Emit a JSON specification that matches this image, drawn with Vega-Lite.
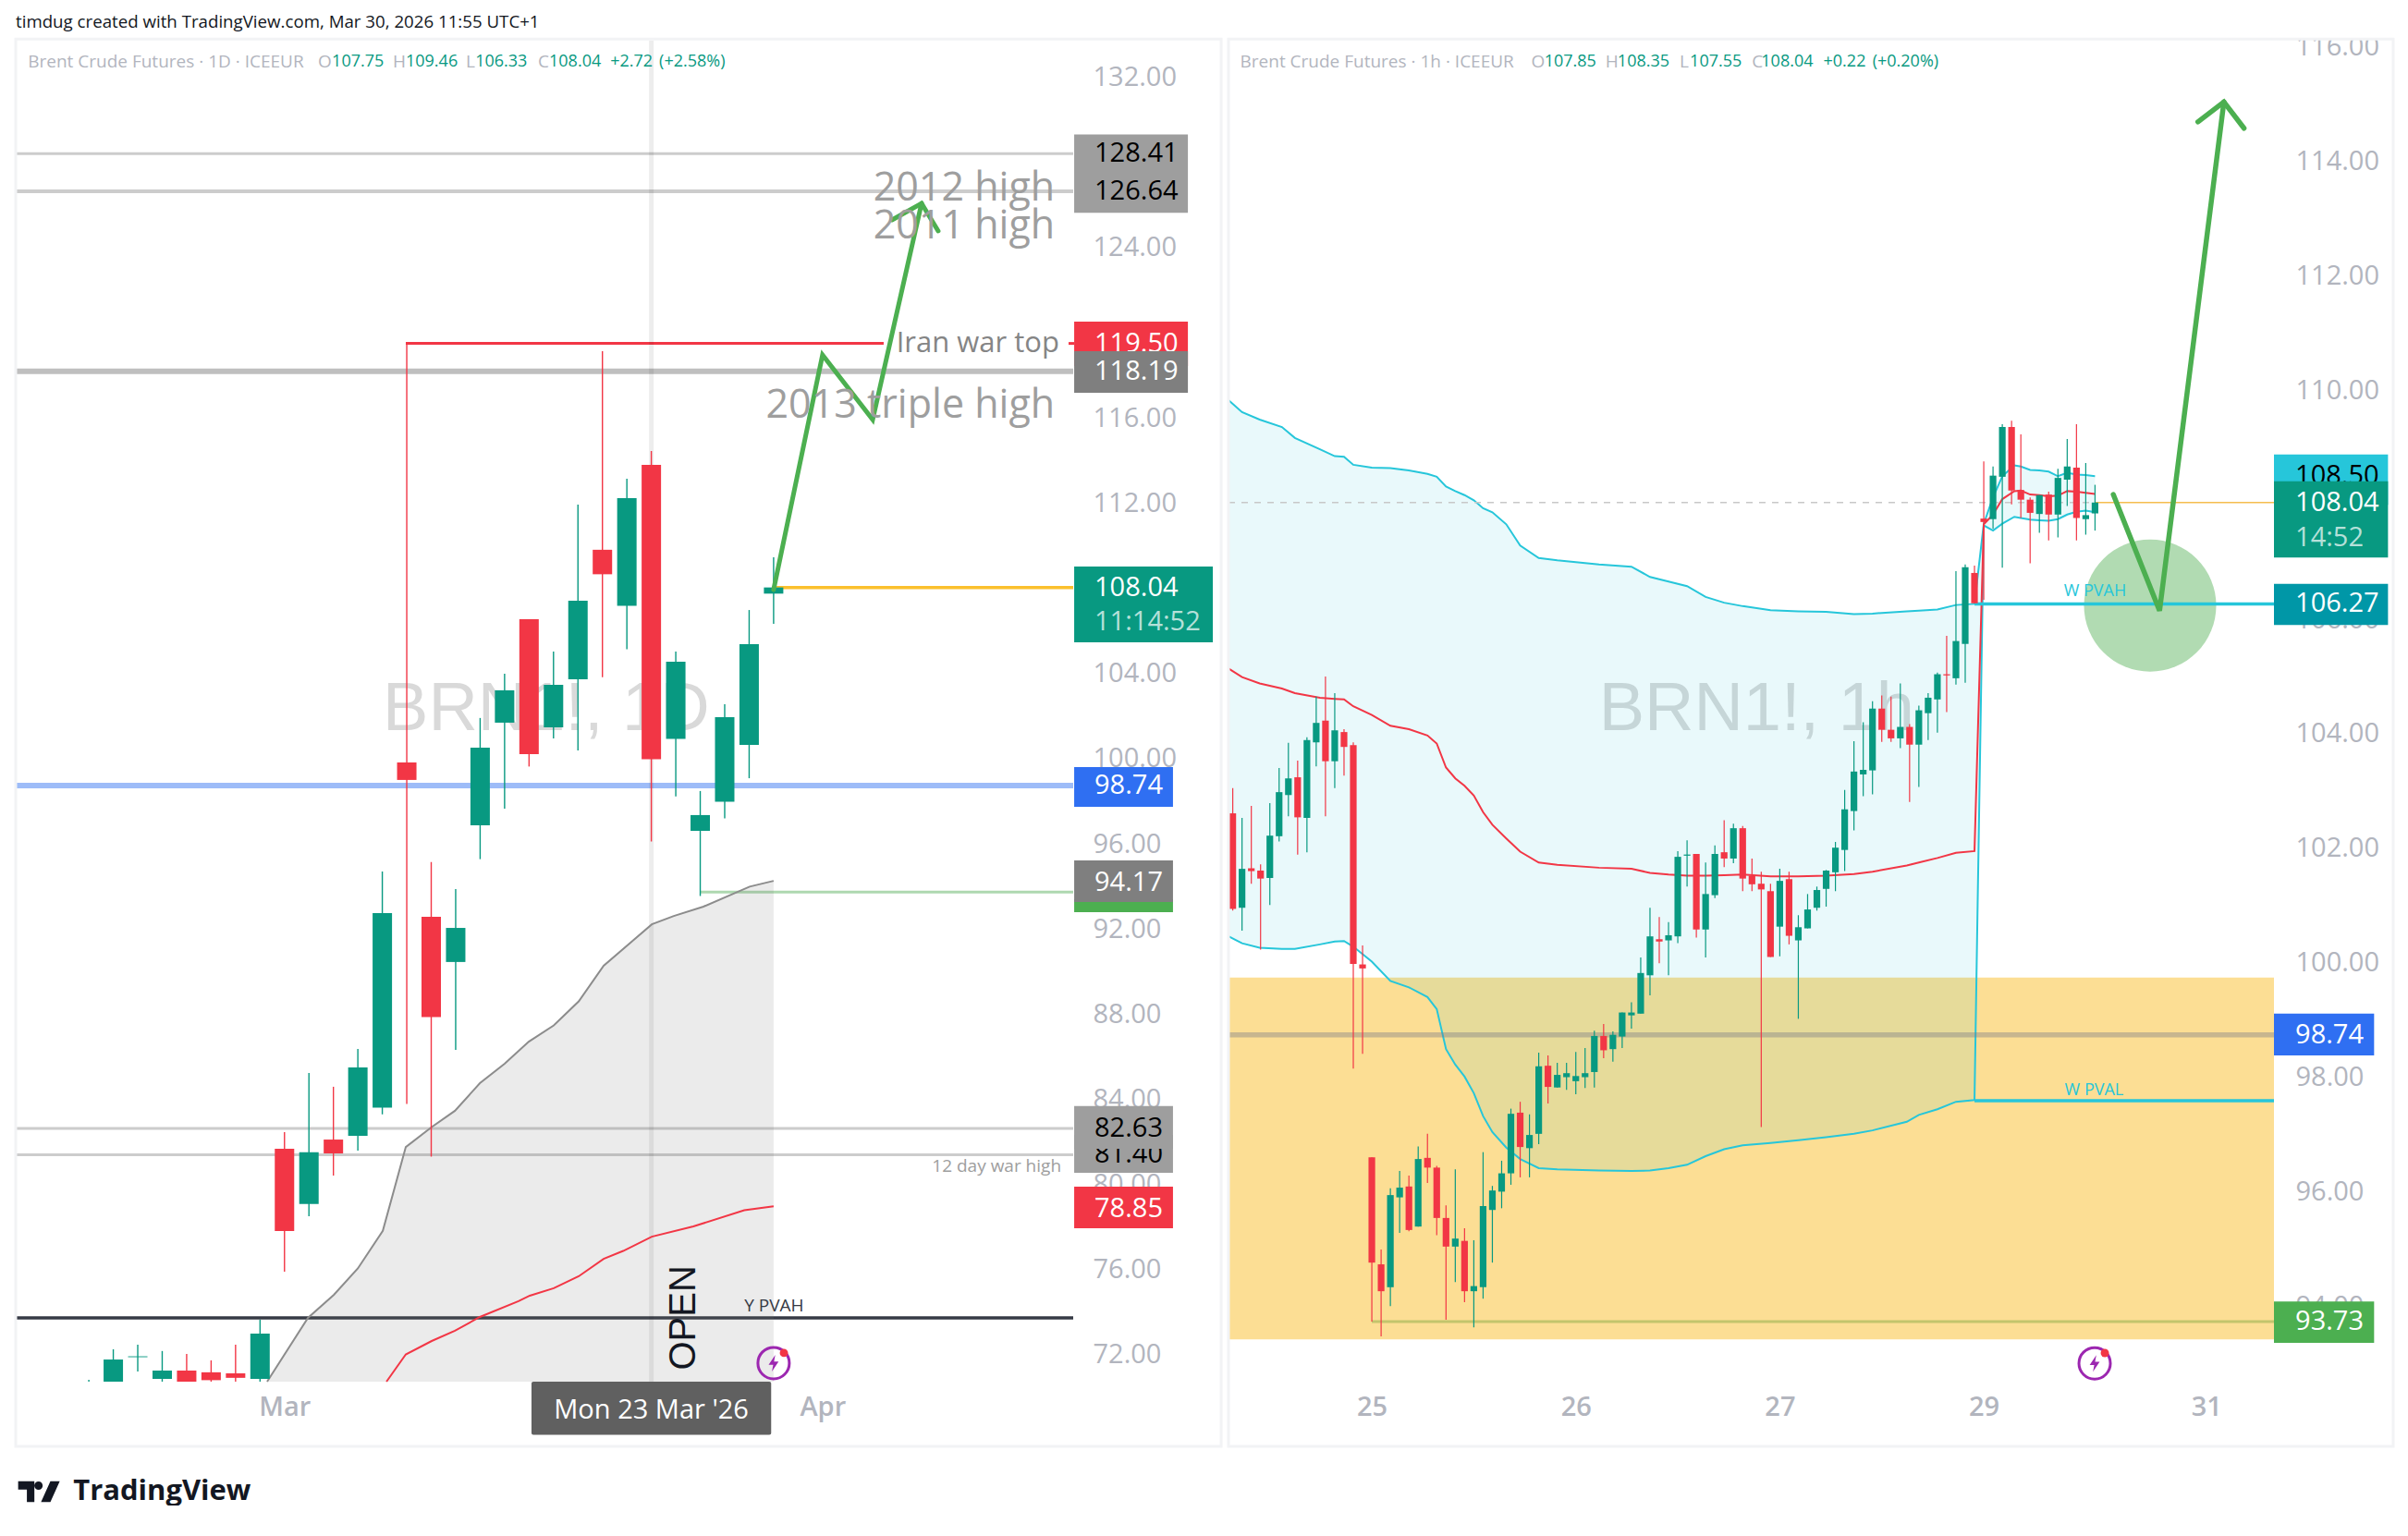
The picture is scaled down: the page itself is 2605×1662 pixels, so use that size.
{
  "$schema": "https://vega.github.io/schema/vega-lite/v6.json",
  "description": "Brent Crude Futures, daily and hourly candles with volume profile levels.",
  "background": "white",
  "padding": {"left": 14, "top": 14, "right": 0, "bottom": 0},
  "spacing": 168,
  "bounds": "flush",
  "config": {
    "view": {"stroke": null},
    "font": "Open Sans",
    "axis": {"domain": false, "ticks": false, "grid": false, "labelFont": "Open Sans", "labelFontSize": 29, "labelColor": "#b2b5be", "labelOverlap": false, "labelBound": false, "labelFlush": false}
  },
  "hconcat": [
    {
      "width": 1144,
      "height": 1451,
      "encoding": {
        "x": {"field": "i", "type": "quantitative", "title": null, "scale": {"domain": [-2.99, 40.25], "nice": false, "zero": false, "padding": 0}, "axis": {"values": [8, 30], "labelExpr": "datum.value == 8 ? 'Mar' : 'Apr'", "labelPadding": 13, "labelFontWeight": 600}},
        "y": {"field": "p", "type": "quantitative", "title": null, "scale": {"domain": [70.74, 133.72], "nice": false, "zero": false}, "axis": {"orient": "right", "values": [72, 76, 80, 84, 88, 92, 96, 100, 104, 108, 112, 116, 120, 124, 128, 132], "format": ".2f", "labelPadding": 21}}
      },
      "layer": [
        {
          "data": {"values": [{"i": 18.7, "p": 102.3, "t": "BRN1!, 1D"}]},
          "mark": {"type": "text", "fontSize": 74, "font": "Liberation Sans", "color": "#d9d9d9", "align": "center", "baseline": "middle"},
          "encoding": {"text": {"field": "t"}}
        },
        {
          "data": {"values": [{"i": -2.99, "i2": 40.25, "p": 128.41}, {"i": -2.99, "i2": 40.25, "p": 82.63}, {"i": -2.99, "i2": 40.25, "p": 81.4}]},
          "mark": {"type": "rule", "color": "#cccccc", "strokeWidth": 3},
          "encoding": {"x2": {"field": "i2"}}
        },
        {
          "data": {"values": [{"i": -2.99, "i2": 40.25, "p": 126.64}]},
          "mark": {"type": "rule", "color": "#cccccc", "strokeWidth": 4},
          "encoding": {"x2": {"field": "i2"}}
        },
        {
          "data": {"values": [{"i": -2.99, "i2": 40.25, "p": 118.19}]},
          "mark": {"type": "rule", "color": "#bfbfbf", "strokeWidth": 6},
          "encoding": {"x2": {"field": "i2"}}
        },
        {
          "data": {"values": [{"i": -2.99, "i2": 40.25, "p": 98.74}]},
          "mark": {"type": "rule", "color": "#9dbcf8", "strokeWidth": 6},
          "encoding": {"x2": {"field": "i2"}}
        },
        {
          "data": {"values": [{"i": 25, "i2": 40.25, "p": 93.73}]},
          "mark": {"type": "rule", "color": "#aed8b0", "strokeWidth": 3},
          "encoding": {"x2": {"field": "i2"}}
        },
        {
          "data": {"values": [{"i": 28, "i2": 40.25, "p": 108.04}]},
          "mark": {"type": "rule", "color": "#fbc02d", "strokeWidth": 3.5},
          "encoding": {"x2": {"field": "i2"}}
        },
        {
          "data": {"values": [{"i": -2.99, "i2": 40.25, "p": 73.74}]},
          "mark": {"type": "rule", "color": "#363a45", "strokeWidth": 3.5},
          "encoding": {"x2": {"field": "i2"}}
        },
        {
          "data": {"values": [{"i": 12.96, "i2": 32.5, "p": 119.5}, {"i": 40.06, "i2": 40.29, "p": 119.5}]},
          "mark": {"type": "rule", "color": "#f23645", "strokeWidth": 3},
          "encoding": {"x2": {"field": "i2"}}
        },
        {
          "data": {"values": [{"i": 23}]},
          "mark": {"type": "rule", "color": "#000000", "opacity": 0.07, "strokeWidth": 5},
          "encoding": {"y": {"value": 0}, "y2": {"value": 1451}}
        },
        {
          "data": {"values": [
            {"i": 7.29, "p": 70.74, "b": 70.74}, {"i": 8.96, "p": 73.74, "b": 70.74}, {"i": 10.02, "p": 74.82, "b": 70.74}, {"i": 11, "p": 76.06, "b": 70.74},
            {"i": 12.02, "p": 77.82, "b": 70.74}, {"i": 12.96, "p": 81.76, "b": 70.74}, {"i": 14.02, "p": 82.7, "b": 70.74}, {"i": 14.97, "p": 83.46, "b": 70.74},
            {"i": 15.99, "p": 84.76, "b": 70.74}, {"i": 17, "p": 85.67, "b": 70.74}, {"i": 17.99, "p": 86.71, "b": 70.74}, {"i": 19.01, "p": 87.47, "b": 70.74},
            {"i": 20.03, "p": 88.6, "b": 70.74}, {"i": 21.05, "p": 90.27, "b": 70.74}, {"i": 23.02, "p": 92.22, "b": 70.74}, {"i": 23.92, "p": 92.61, "b": 70.74},
            {"i": 25.13, "p": 93.05, "b": 70.74}, {"i": 27.02, "p": 93.99, "b": 70.74}, {"i": 28, "p": 94.26, "b": 70.74}
          ]},
          "layer": [
            {"mark": {"type": "area", "color": "#787878", "opacity": 0.15}, "encoding": {"y2": {"field": "b"}}},
            {"mark": {"type": "line", "color": "#8c8c8c", "strokeWidth": 2}, "encoding": {}}
          ]
        },
        {
          "data": {"values": [
            {"i": 12.17, "p": 70.74}, {"i": 12.96, "p": 72.02}, {"i": 14.02, "p": 72.65}, {"i": 14.97, "p": 73.13}, {"i": 15.99, "p": 73.78}, {"i": 17.57, "p": 74.52},
            {"i": 18.03, "p": 74.78}, {"i": 19.01, "p": 75.13}, {"i": 20.03, "p": 75.69}, {"i": 21.05, "p": 76.51}, {"i": 21.85, "p": 76.88}, {"i": 23.02, "p": 77.55},
            {"i": 24.72, "p": 78.03}, {"i": 26.8, "p": 78.79}, {"i": 28, "p": 78.98}
          ]},
          "mark": {"type": "line", "color": "#f23645", "strokeWidth": 2},
          "encoding": {}
        },
        {
          "data": {"values": [
            {"i": 0, "o": 70, "h": 70.83, "l": 69.5, "c": 70.5},
            {"i": 1, "o": 70.3, "h": 72.26, "l": 70, "c": 71.78},
            {"i": 2, "o": 71.89, "h": 72.48, "l": 71.22, "c": 71.93},
            {"i": 3, "o": 70.87, "h": 72.18, "l": 70.72, "c": 71.26},
            {"i": 4, "o": 71.26, "h": 72.04, "l": 70.3, "c": 70.5},
            {"i": 5, "o": 71.18, "h": 71.74, "l": 70.6, "c": 70.81},
            {"i": 6, "o": 71.13, "h": 72.48, "l": 70.6, "c": 70.92},
            {"i": 7, "o": 70.87, "h": 73.65, "l": 70.6, "c": 73},
            {"i": 8, "o": 81.68, "h": 82.46, "l": 75.91, "c": 77.82},
            {"i": 9, "o": 79.08, "h": 85.24, "l": 78.51, "c": 81.51},
            {"i": 10, "o": 82.11, "h": 84.59, "l": 80.42, "c": 81.46},
            {"i": 11, "o": 82.29, "h": 86.37, "l": 81.59, "c": 85.5},
            {"i": 12, "o": 83.61, "h": 94.7, "l": 83.29, "c": 92.75},
            {"i": 13, "o": 99.82, "h": 119.48, "l": 83.78, "c": 99},
            {"i": 14, "o": 92.57, "h": 95.14, "l": 81.31, "c": 87.86},
            {"i": 15, "o": 90.45, "h": 93.88, "l": 86.32, "c": 92.05},
            {"i": 16, "o": 96.87, "h": 101.91, "l": 95.28, "c": 100.52},
            {"i": 17, "o": 101.69, "h": 103.99, "l": 97.65, "c": 103.21},
            {"i": 18, "o": 106.55, "h": 106.55, "l": 99.63, "c": 100.21},
            {"i": 19, "o": 101.47, "h": 105.03, "l": 100.95, "c": 103.47},
            {"i": 20, "o": 103.73, "h": 111.93, "l": 100.39, "c": 107.42},
            {"i": 21, "o": 109.81, "h": 119.14, "l": 103.82, "c": 108.66},
            {"i": 22, "o": 107.18, "h": 113.15, "l": 105.14, "c": 112.24},
            {"i": 23, "o": 113.8, "h": 114.45, "l": 96.11, "c": 99.97},
            {"i": 24, "o": 100.93, "h": 105.03, "l": 98.23, "c": 104.55},
            {"i": 25, "o": 96.61, "h": 98.48, "l": 93.55, "c": 97.35},
            {"i": 26, "o": 97.98, "h": 102.56, "l": 97.19, "c": 101.95},
            {"i": 27, "o": 100.65, "h": 106.98, "l": 99.08, "c": 105.38},
            {"i": 28, "o": 107.75, "h": 109.46, "l": 106.33, "c": 108.04}
          ]},
          "layer": [
            {
              "mark": {"type": "rule", "strokeWidth": 1.4, "clip": true},
              "encoding": {
                "y": {"field": "h", "type": "quantitative", "title": null, "scale": {"domain": [70.74, 133.72], "nice": false, "zero": false}},
                "y2": {"field": "l"},
                "color": {"condition": {"test": "datum.c >= datum.o", "value": "#089981"}, "value": "#f23645"}
              }
            },
            {
              "mark": {"type": "bar", "width": 21, "clip": true},
              "encoding": {
                "y": {"field": "o", "type": "quantitative", "title": null, "scale": {"domain": [70.74, 133.72], "nice": false, "zero": false}},
                "y2": {"field": "c"},
                "color": {"condition": {"test": "datum.c >= datum.o", "value": "#089981"}, "value": "#f23645"}
              }
            }
          ]
        },
        {
          "data": {"values": [
            {"leg": "main", "n": 1, "i": 28, "p": 107.94}, {"leg": "main", "n": 2, "i": 30, "p": 118.96}, {"leg": "main", "n": 3, "i": 32.05, "p": 115.92}, {"leg": "main", "n": 4, "i": 34.05, "p": 126.08},
            {"leg": "head", "n": 1, "i": 32.84, "p": 125.3}, {"leg": "head", "n": 2, "i": 34.05, "p": 126.08}, {"leg": "head", "n": 3, "i": 34.73, "p": 124.78}
          ]},
          "mark": {"type": "line", "color": "#4caf50", "strokeWidth": 5, "strokeCap": "round", "strokeJoin": "miter"},
          "encoding": {"detail": {"field": "leg"}, "order": {"field": "n"}}
        },
        {
          "data": {"values": [{"i": 39.5, "p": 126.77, "t": "2012 high"}, {"i": 39.5, "p": 124.99, "t": "2011 high"}, {"i": 39.5, "p": 116.57, "t": "2013 triple high"}]},
          "mark": {"type": "text", "fontSize": 43, "color": "#9e9e9e", "align": "right", "baseline": "middle"},
          "encoding": {"text": {"field": "t"}}
        },
        {
          "data": {"values": [{"i": 39.68, "p": 119.48, "t": "Iran war top"}]},
          "mark": {"type": "text", "fontSize": 31, "color": "#858585", "align": "right", "baseline": "middle"},
          "encoding": {"text": {"field": "t"}}
        },
        {
          "data": {"values": [{"i": 39.76, "p": 80.85, "t": "12 day war high"}]},
          "mark": {"type": "text", "fontSize": 19, "color": "#9e9e9e", "align": "right", "baseline": "middle"},
          "encoding": {"text": {"field": "t"}}
        },
        {
          "data": {"values": [{"i": 26.8, "p": 74.28, "t": "Y PVAH"}]},
          "mark": {"type": "text", "fontSize": 19, "color": "#363a45", "align": "left", "baseline": "middle"},
          "encoding": {"text": {"field": "t"}}
        },
        {
          "data": {"values": [{"i": 24.34, "p": 73.74, "t": "OPEN"}]},
          "mark": {"type": "text", "fontSize": 40, "font": "Liberation Sans", "color": "#131722", "angle": 270, "align": "center", "baseline": "middle"},
          "encoding": {"text": {"field": "t"}}
        },
        {
          "data": {"values": [{"i": 28, "p": 71.61}]},
          "layer": [
            {"mark": {"type": "point", "shape": "circle", "filled": false, "size": 1156, "color": "#9c27b0", "strokeWidth": 3, "opacity": 1}, "encoding": {}},
            {"mark": {"type": "point", "shape": "M0.2 -1 L-0.6 0.2 H-0.05 L-0.2 1 L0.6 -0.2 H0.05 Z", "filled": true, "size": 324, "color": "#9c27b0", "opacity": 1}, "encoding": {}}
          ]
        },
        {
          "data": {"values": [{"i": 28.42, "p": 72.09}]},
          "mark": {"type": "circle", "size": 80, "color": "#f23645", "opacity": 1},
          "encoding": {}
        },
        {
          "data": {"values": [{"i": 40.29, "i2": 44.94, "p": 120.52, "p2": 118.44}]},
          "mark": {"type": "rect", "color": "#f23645"},
          "encoding": {"x2": {"field": "i2"}, "y2": {"field": "p2"}}
        },
        {
          "data": {"values": [{"i": 41.12, "p": 119.5, "t": "119.50"}]},
          "mark": {"type": "text", "fontSize": 29, "color": "#ffffff", "align": "left", "baseline": "middle"},
          "encoding": {"text": {"field": "t"}}
        },
        {
          "data": {"values": [{"i": 40.29, "i2": 44.33, "p": 93.4, "p2": 92.79}]},
          "mark": {"type": "rect", "color": "#4caf50"},
          "encoding": {"x2": {"field": "i2"}, "y2": {"field": "p2"}}
        },
        {
          "data": {"values": [{"i": 40.29, "i2": 44.33, "p": 82.33, "p2": 80.55}]},
          "mark": {"type": "rect", "color": "#9e9e9e"},
          "encoding": {"x2": {"field": "i2"}, "y2": {"field": "p2"}}
        },
        {
          "data": {"values": [{"i": 41.12, "p": 81.4, "t": "81.40"}]},
          "mark": {"type": "text", "fontSize": 29, "color": "#000000", "align": "left", "baseline": "middle"},
          "encoding": {"text": {"field": "t"}}
        },
        {
          "data": {"values": [
            {"i": 40.29, "i2": 44.94, "p": 129.31, "p2": 125.64},
            {"i": 40.29, "i2": 44.33, "p": 83.68, "p2": 81.68}
          ]},
          "mark": {"type": "rect", "color": "#9e9e9e"},
          "encoding": {"x2": {"field": "i2"}, "y2": {"field": "p2"}}
        },
        {
          "data": {"values": [
            {"i": 40.29, "i2": 44.94, "p": 119.14, "p2": 117.18},
            {"i": 40.29, "i2": 44.33, "p": 95.22, "p2": 93.27}
          ]},
          "mark": {"type": "rect", "color": "#7f7f7f"},
          "encoding": {"x2": {"field": "i2"}, "y2": {"field": "p2"}}
        },
        {
          "data": {"values": [{"i": 40.29, "i2": 45.96, "p": 109.02, "p2": 105.46}]},
          "mark": {"type": "rect", "color": "#089981"},
          "encoding": {"x2": {"field": "i2"}, "y2": {"field": "p2"}}
        },
        {
          "data": {"values": [{"i": 40.29, "i2": 44.33, "p": 99.6, "p2": 97.74}]},
          "mark": {"type": "rect", "color": "#2f6ff2"},
          "encoding": {"x2": {"field": "i2"}, "y2": {"field": "p2"}}
        },
        {
          "data": {"values": [{"i": 40.29, "i2": 44.33, "p": 79.9, "p2": 77.94}]},
          "mark": {"type": "rect", "color": "#f23645"},
          "encoding": {"x2": {"field": "i2"}, "y2": {"field": "p2"}}
        },
        {
          "data": {"values": [{"i": 18.1, "i2": 27.9, "p": 70.74, "p2": 68.24}]},
          "mark": {"type": "rect", "color": "#606060", "cornerRadius": 2},
          "encoding": {"x2": {"field": "i2"}, "y2": {"field": "p2"}}
        },
        {
          "data": {"values": [{"i": 41.12, "p": 128.41, "t": "128.41"}, {"i": 41.12, "p": 126.64, "t": "126.64"}, {"i": 41.12, "p": 82.63, "t": "82.63"}]},
          "mark": {"type": "text", "fontSize": 29, "color": "#000000", "align": "left", "baseline": "middle"},
          "encoding": {"text": {"field": "t"}}
        },
        {
          "data": {"values": [
            {"i": 41.12, "p": 118.19, "t": "118.19"}, {"i": 41.12, "p": 108.04, "t": "108.04"}, {"i": 41.12, "p": 98.74, "t": "98.74"},
            {"i": 41.12, "p": 94.17, "t": "94.17"}, {"i": 41.12, "p": 78.85, "t": "78.85"}
          ]},
          "mark": {"type": "text", "fontSize": 29, "color": "#ffffff", "align": "left", "baseline": "middle"},
          "encoding": {"text": {"field": "t"}}
        },
        {
          "data": {"values": [{"i": 41.12, "p": 106.42, "t": "11:14:52"}]},
          "mark": {"type": "text", "fontSize": 29, "color": "#b5e0d9", "align": "left", "baseline": "middle"},
          "encoding": {"text": {"field": "t"}}
        },
        {
          "data": {"values": [{"i": 23, "p": 69.39, "t": "Mon 23 Mar '26"}]},
          "mark": {"type": "text", "fontSize": 29, "color": "#ffffff", "align": "center", "baseline": "middle"},
          "encoding": {"text": {"field": "t"}}
        },
        {
          "data": {"values": [{"i": -2.99, "i2": 46.3, "p": 133.8, "p2": 67.7}]},
          "mark": {"type": "rect", "fill": "transparent", "stroke": "#f2f3f5", "strokeWidth": 3},
          "encoding": {"x2": {"field": "i2"}, "y2": {"field": "p2"}}
        },
        {
          "data": {"values": [{"i": -2.99, "p": 134.59, "t": "timdug created with TradingView.com, Mar 30, 2026 11:55 UTC+1"}]},
          "mark": {"type": "text", "fontSize": 18.7, "color": "#131722", "align": "left", "baseline": "middle"},
          "encoding": {"text": {"field": "t"}}
        },
        {
          "data": {"values": [{"i": -2.49, "p": 132.72, "t": "Brent Crude Futures · 1D · ICEEUR"}, {"i": 9.37, "p": 132.72, "t": "O"}, {"i": 12.43, "p": 132.72, "t": "H"}, {"i": 15.42, "p": 132.72, "t": "L"}, {"i": 18.37, "p": 132.72, "t": "C"}]},
          "mark": {"type": "text", "fontSize": 19, "color": "#b2b5be", "align": "left", "baseline": "middle"},
          "encoding": {"text": {"field": "t"}}
        },
        {
          "data": {"values": [{"i": 9.94, "p": 132.72, "t": "107.75"}, {"i": 12.96, "p": 132.72, "t": "109.46"}, {"i": 15.8, "p": 132.72, "t": "106.33"}, {"i": 18.82, "p": 132.72, "t": "108.04"}, {"i": 21.32, "p": 132.72, "t": "+2.72"}, {"i": 23.32, "p": 132.72, "t": "(+2.58%)"}]},
          "mark": {"type": "text", "fontSize": 18, "color": "#089981", "align": "left", "baseline": "middle"},
          "encoding": {"text": {"field": "t"}}
        },
        {
          "data": {"values": [{"i": -2.04, "p": 65.58}]},
          "mark": {"type": "point", "shape": "M-1 -0.5 H-0.22 V0.5 H-0.58 V-0.1 H-1 Z M-0.22 -0.28 A0.2 0.2 0 1 1 0.18 -0.28 A0.2 0.2 0 1 1 -0.22 -0.28 Z M0.55 -0.5 H1 L0.55 0.5 H0.1 Z", "filled": true, "size": 2025, "color": "#131722", "opacity": 1},
          "encoding": {}
        },
        {
          "data": {"values": [{"i": -0.64, "p": 65.58, "t": "TradingView"}]},
          "mark": {"type": "text", "fontSize": 31, "fontWeight": "bold", "color": "#131722", "align": "left", "baseline": "middle"},
          "encoding": {"text": {"field": "t"}}
        }
      ]
    },
    {
      "width": 1131,
      "height": 1451,
      "encoding": {
        "x": {"field": "i", "type": "quantitative", "title": null, "scale": {"domain": [-0.46, 112.3], "nice": false, "zero": false, "padding": 0}, "axis": {"values": [15, 37, 59, 81, 105], "labelExpr": "datum.value == 15 ? '25' : datum.value == 37 ? '26' : datum.value == 59 ? '27' : datum.value == 81 ? '29' : '31'", "labelPadding": 13, "labelFontWeight": 600}},
        "y": {"field": "p", "type": "quantitative", "title": null, "scale": {"domain": [92.68, 116.11], "nice": false, "zero": false}, "axis": {"orient": "right", "values": [94, 96, 98, 100, 102, 104, 106, 108, 110, 112, 114, 116], "format": ".2f", "labelPadding": 23}}
      },
      "layer": [
        {
          "data": {"values": [{"i": -0.46, "i2": 112.3, "p": 99.74, "p2": 93.42}]},
          "mark": {"type": "rect", "color": "#fcde94"},
          "encoding": {"x2": {"field": "i2"}, "y2": {"field": "p2"}}
        },
        {
          "data": {"values": [{"i": 56.5, "p": 104.42, "t": "BRN1!, 1h"}]},
          "mark": {"type": "text", "fontSize": 74, "font": "Liberation Sans", "color": "#d9d9d9", "align": "center", "baseline": "middle"},
          "encoding": {"text": {"field": "t"}}
        },
        {
          "data": {"values": [
            {"i": -0.45, "u": 109.83, "m": 105.14, "l": 100.46}, {"i": 1, "u": 109.62, "m": 104.99, "l": 100.34}, {"i": 2.9, "u": 109.49, "m": 104.88, "l": 100.26},
            {"i": 5.3, "u": 109.36, "m": 104.79, "l": 100.24}, {"i": 6.7, "u": 109.17, "m": 104.71, "l": 100.24}, {"i": 9.4, "u": 108.97, "m": 104.63, "l": 100.32},
            {"i": 11, "u": 108.85, "m": 104.61, "l": 100.37}, {"i": 12, "u": 108.84, "m": 104.6, "l": 100.38}, {"i": 13, "u": 108.7, "m": 104.48, "l": 100.28},
            {"i": 15, "u": 108.65, "m": 104.33, "l": 100.02}, {"i": 17, "u": 108.64, "m": 104.14, "l": 99.68}, {"i": 19, "u": 108.6, "m": 104.08, "l": 99.57},
            {"i": 21, "u": 108.54, "m": 103.97, "l": 99.4}, {"i": 22, "u": 108.49, "m": 103.83, "l": 99.19}, {"i": 23, "u": 108.32, "m": 103.41, "l": 98.49},
            {"i": 24, "u": 108.24, "m": 103.22, "l": 98.22}, {"i": 25, "u": 108.17, "m": 103.09, "l": 98.01}, {"i": 26, "u": 108.08, "m": 102.92, "l": 97.72},
            {"i": 27, "u": 107.94, "m": 102.63, "l": 97.32}, {"i": 28, "u": 107.87, "m": 102.41, "l": 97.04}, {"i": 29.5, "u": 107.66, "m": 102.17, "l": 96.77},
            {"i": 31, "u": 107.29, "m": 101.94, "l": 96.57}, {"i": 33, "u": 107.07, "m": 101.75, "l": 96.41}, {"i": 35, "u": 107.03, "m": 101.71, "l": 96.39},
            {"i": 39.5, "u": 106.96, "m": 101.66, "l": 96.37}, {"i": 43, "u": 106.92, "m": 101.64, "l": 96.36}, {"i": 45, "u": 106.74, "m": 101.57, "l": 96.37},
            {"i": 47, "u": 106.66, "m": 101.54, "l": 96.41}, {"i": 49, "u": 106.58, "m": 101.52, "l": 96.47}, {"i": 51, "u": 106.39, "m": 101.52, "l": 96.62},
            {"i": 53, "u": 106.29, "m": 101.53, "l": 96.74}, {"i": 55, "u": 106.23, "m": 101.54, "l": 96.81}, {"i": 58, "u": 106.16, "m": 101.51, "l": 96.85},
            {"i": 61, "u": 106.14, "m": 101.51, "l": 96.9}, {"i": 64, "u": 106.13, "m": 101.52, "l": 96.95}, {"i": 67, "u": 106.09, "m": 101.55, "l": 97.01},
            {"i": 69, "u": 106.1, "m": 101.59, "l": 97.07}, {"i": 72.7, "u": 106.14, "m": 101.7, "l": 97.22}, {"i": 74, "u": 106.15, "m": 101.75, "l": 97.34},
            {"i": 76, "u": 106.17, "m": 101.83, "l": 97.44}, {"i": 78, "u": 106.25, "m": 101.92, "l": 97.57}, {"i": 80, "u": 106.27, "m": 101.95, "l": 97.6},
            {"i": 81, "u": 107.67, "m": 107.66, "l": 107.64}, {"i": 82, "u": 108.13, "m": 107.83, "l": 107.55}, {"i": 83, "u": 108.5, "m": 108.1, "l": 107.67},
            {"i": 84.3, "u": 108.69, "m": 108.24, "l": 107.79}, {"i": 85, "u": 108.67, "m": 108.25, "l": 107.77}, {"i": 86, "u": 108.61, "m": 108.18, "l": 107.74},
            {"i": 87, "u": 108.6, "m": 108.17, "l": 107.73}, {"i": 88, "u": 108.58, "m": 108.15, "l": 107.72}, {"i": 89, "u": 108.5, "m": 108.16, "l": 107.75},
            {"i": 90, "u": 108.56, "m": 108.24, "l": 107.83}, {"i": 91, "u": 108.53, "m": 108.23, "l": 107.88}, {"i": 92, "u": 108.52, "m": 108.21, "l": 107.9},
            {"i": 93, "u": 108.5, "m": 108.19, "l": 107.87}
          ]},
          "layer": [
            {
              "mark": {"type": "area", "color": "#26c6da", "opacity": 0.1},
              "encoding": {
                "y": {"field": "u", "type": "quantitative", "title": null, "scale": {"domain": [92.68, 116.11], "nice": false, "zero": false}},
                "y2": {"field": "l"}
              }
            },
            {
              "mark": {"type": "line", "color": "#26c6da", "strokeWidth": 2},
              "encoding": {"y": {"field": "u", "type": "quantitative", "title": null, "scale": {"domain": [92.68, 116.11], "nice": false, "zero": false}}}
            },
            {
              "mark": {"type": "line", "color": "#26c6da", "strokeWidth": 2},
              "encoding": {"y": {"field": "l", "type": "quantitative", "title": null, "scale": {"domain": [92.68, 116.11], "nice": false, "zero": false}}}
            },
            {
              "mark": {"type": "line", "color": "#f23645", "strokeWidth": 2},
              "encoding": {"y": {"field": "m", "type": "quantitative", "title": null, "scale": {"domain": [92.68, 116.11], "nice": false, "zero": false}}}
            }
          ]
        },
        {
          "data": {"values": [{"i": -0.46, "i2": 112.3, "p": 98.74}]},
          "mark": {"type": "rule", "color": "#787b86", "opacity": 0.4, "strokeWidth": 5.5},
          "encoding": {"x2": {"field": "i2"}}
        },
        {
          "data": {"values": [{"i": 15, "i2": 112.3, "p": 93.73}]},
          "mark": {"type": "rule", "color": "#6fa02f", "opacity": 0.4, "strokeWidth": 3},
          "encoding": {"x2": {"field": "i2"}}
        },
        {
          "data": {"values": [{"i": -0.46, "i2": 93, "p": 108.04}]},
          "mark": {"type": "rule", "color": "#c8c8c8", "strokeWidth": 1.5, "strokeDash": [7, 7]},
          "encoding": {"x2": {"field": "i2"}}
        },
        {
          "data": {"values": [{"i": 93, "i2": 112.3, "p": 108.04}]},
          "mark": {"type": "rule", "color": "#f5bd4f", "strokeWidth": 1.5},
          "encoding": {"x2": {"field": "i2"}}
        },
        {
          "data": {"values": [{"i": 98.94, "p": 106.24}]},
          "mark": {"type": "circle", "size": 20449, "color": "#b1dbb2", "opacity": 1},
          "encoding": {}
        },
        {
          "data": {"values": [{"i": 80, "i2": 112.3, "p": 106.27}, {"i": 80, "i2": 112.3, "p": 97.59}]},
          "mark": {"type": "rule", "color": "#26c6da", "strokeWidth": 3.5},
          "encoding": {"x2": {"field": "i2"}}
        },
        {
          "data": {"values": [
            {"i": 0, "o": 102.61, "h": 103.05, "l": 100.91, "c": 100.94}, {"i": 1, "o": 100.96, "h": 102.53, "l": 100.56, "c": 101.64}, {"i": 2, "o": 101.65, "h": 102.74, "l": 101.38, "c": 101.6},
            {"i": 3, "o": 101.61, "h": 101.72, "l": 100.23, "c": 101.47}, {"i": 4, "o": 101.48, "h": 102.79, "l": 101.01, "c": 102.22}, {"i": 5, "o": 102.21, "h": 103.4, "l": 102.12, "c": 102.98},
            {"i": 6, "o": 102.93, "h": 103.84, "l": 102.56, "c": 103.22}, {"i": 7, "o": 103.24, "h": 103.53, "l": 101.89, "c": 102.54}, {"i": 8, "o": 102.53, "h": 103.94, "l": 101.93, "c": 103.89},
            {"i": 9, "o": 103.85, "h": 104.65, "l": 103.43, "c": 104.19}, {"i": 10, "o": 104.23, "h": 105, "l": 102.56, "c": 103.52}, {"i": 11, "o": 103.52, "h": 104.71, "l": 103.05, "c": 104.06},
            {"i": 12, "o": 104.03, "h": 104.08, "l": 103.27, "c": 103.77}, {"i": 13, "o": 103.8, "h": 103.85, "l": 98.15, "c": 99.98}, {"i": 14, "o": 99.97, "h": 100.3, "l": 98.41, "c": 99.9},
            {"i": 15, "o": 96.6, "h": 96.6, "l": 93.73, "c": 94.76}, {"i": 16, "o": 94.73, "h": 94.99, "l": 93.47, "c": 94.26}, {"i": 17, "o": 94.33, "h": 96.06, "l": 94, "c": 95.94},
            {"i": 18, "o": 95.9, "h": 96.36, "l": 95.28, "c": 96.07}, {"i": 19, "o": 96.09, "h": 96.28, "l": 95.31, "c": 95.33}, {"i": 20, "o": 95.39, "h": 96.79, "l": 95.39, "c": 96.57},
            {"i": 21, "o": 96.59, "h": 97.01, "l": 96.15, "c": 96.42}, {"i": 22, "o": 96.42, "h": 96.45, "l": 95.24, "c": 95.54}, {"i": 23, "o": 95.54, "h": 95.76, "l": 93.76, "c": 95.04},
            {"i": 24, "o": 95.04, "h": 96.39, "l": 94.42, "c": 95.18}, {"i": 25, "o": 95.14, "h": 95.36, "l": 94.07, "c": 94.26}, {"i": 26, "o": 94.26, "h": 95.15, "l": 93.63, "c": 94.35},
            {"i": 27, "o": 94.33, "h": 96.69, "l": 94.13, "c": 95.75}, {"i": 28, "o": 95.68, "h": 96.1, "l": 94.76, "c": 96.02}, {"i": 29, "o": 96, "h": 96.54, "l": 95.71, "c": 96.32},
            {"i": 30, "o": 96.32, "h": 97.45, "l": 96.12, "c": 97.36}, {"i": 31, "o": 97.38, "h": 97.57, "l": 96.25, "c": 96.78}, {"i": 32, "o": 96.76, "h": 97.35, "l": 96.25, "c": 96.99},
            {"i": 33, "o": 97.01, "h": 98.43, "l": 96.83, "c": 98.19}, {"i": 34, "o": 98.2, "h": 98.38, "l": 97.54, "c": 97.83}, {"i": 35, "o": 97.82, "h": 98.25, "l": 97.82, "c": 98.04},
            {"i": 36, "o": 98, "h": 98.25, "l": 97.78, "c": 98.07}, {"i": 37, "o": 97.93, "h": 98.44, "l": 97.7, "c": 98.02}, {"i": 38, "o": 98, "h": 98.51, "l": 97.81, "c": 98.07},
            {"i": 39, "o": 98.09, "h": 98.81, "l": 97.82, "c": 98.72}, {"i": 40, "o": 98.72, "h": 98.93, "l": 98.33, "c": 98.47}, {"i": 41, "o": 98.49, "h": 98.8, "l": 98.27, "c": 98.74},
            {"i": 42, "o": 98.71, "h": 99.13, "l": 98.51, "c": 99.13}, {"i": 43, "o": 99.08, "h": 99.31, "l": 98.85, "c": 99.13}, {"i": 44, "o": 99.11, "h": 100.09, "l": 99.11, "c": 99.82},
            {"i": 45, "o": 99.78, "h": 100.96, "l": 99.43, "c": 100.46}, {"i": 46, "o": 100.41, "h": 100.8, "l": 99.99, "c": 100.37}, {"i": 47, "o": 100.39, "h": 100.71, "l": 99.78, "c": 100.48},
            {"i": 48, "o": 100.46, "h": 101.95, "l": 100.34, "c": 101.85}, {"i": 49, "o": 101.87, "h": 102.14, "l": 101.33, "c": 101.89}, {"i": 50, "o": 101.9, "h": 101.9, "l": 100.44, "c": 100.58},
            {"i": 51, "o": 100.58, "h": 101.75, "l": 100.09, "c": 101.2}, {"i": 52, "o": 101.18, "h": 102.05, "l": 101.13, "c": 101.9}, {"i": 53, "o": 101.93, "h": 102.49, "l": 101.67, "c": 101.82},
            {"i": 54, "o": 101.82, "h": 102.43, "l": 101.74, "c": 102.35}, {"i": 55, "o": 102.35, "h": 102.39, "l": 101.25, "c": 101.47}, {"i": 56, "o": 101.52, "h": 101.82, "l": 101.25, "c": 101.37},
            {"i": 57, "o": 101.38, "h": 101.59, "l": 97.13, "c": 101.28}, {"i": 58, "o": 101.25, "h": 101.38, "l": 100.1, "c": 100.1}, {"i": 59, "o": 100.63, "h": 101.64, "l": 100.11, "c": 101.43},
            {"i": 60, "o": 101.46, "h": 101.59, "l": 100.32, "c": 100.47}, {"i": 61, "o": 100.39, "h": 100.83, "l": 99.02, "c": 100.62}, {"i": 62, "o": 100.6, "h": 101.2, "l": 100.6, "c": 100.93},
            {"i": 63, "o": 100.96, "h": 101.33, "l": 100.91, "c": 101.27}, {"i": 64, "o": 101.29, "h": 101.62, "l": 100.98, "c": 101.61}, {"i": 65, "o": 101.58, "h": 102.11, "l": 101.25, "c": 102.01},
            {"i": 66, "o": 101.97, "h": 103.02, "l": 101.6, "c": 102.68}, {"i": 67, "o": 102.65, "h": 103.87, "l": 102.31, "c": 103.34}, {"i": 68, "o": 103.29, "h": 104.2, "l": 102.91, "c": 103.37},
            {"i": 69, "o": 103.36, "h": 104.57, "l": 102.94, "c": 104.44}, {"i": 70, "o": 104.44, "h": 104.67, "l": 103.86, "c": 104.07}, {"i": 71, "o": 104.07, "h": 104.65, "l": 103.86, "c": 103.92},
            {"i": 72, "o": 103.92, "h": 104.88, "l": 103.75, "c": 104.12}, {"i": 73, "o": 104.12, "h": 104.17, "l": 102.81, "c": 103.81}, {"i": 74, "o": 103.81, "h": 104.49, "l": 103.07, "c": 104.41},
            {"i": 75, "o": 104.36, "h": 104.71, "l": 103.89, "c": 104.63}, {"i": 76, "o": 104.6, "h": 105.07, "l": 104.02, "c": 105.04}, {"i": 77, "o": 105.04, "h": 105.71, "l": 104.38, "c": 105.02},
            {"i": 78, "o": 104.97, "h": 106.84, "l": 104.86, "c": 105.62}, {"i": 79, "o": 105.57, "h": 106.96, "l": 104.89, "c": 106.91}, {"i": 80, "o": 106.81, "h": 106.94, "l": 106.28, "c": 106.28},
            {"i": 81, "o": 107.76, "h": 108.76, "l": 106.34, "c": 107.7}, {"i": 82, "o": 107.75, "h": 108.67, "l": 107.58, "c": 108.51}, {"i": 83, "o": 108.49, "h": 109.41, "l": 106.9, "c": 109.36},
            {"i": 84, "o": 109.36, "h": 109.47, "l": 108.01, "c": 108.25}, {"i": 85, "o": 108.26, "h": 109.23, "l": 107.77, "c": 108.09}, {"i": 86, "o": 108.09, "h": 108.13, "l": 106.98, "c": 107.86},
            {"i": 87, "o": 107.84, "h": 108.17, "l": 107.51, "c": 108.17}, {"i": 88, "o": 108.18, "h": 108.23, "l": 107.38, "c": 107.83}, {"i": 89, "o": 107.83, "h": 108.63, "l": 107.43, "c": 108.47},
            {"i": 90, "o": 108.44, "h": 109.15, "l": 107.98, "c": 108.67}, {"i": 91, "o": 108.65, "h": 109.41, "l": 107.38, "c": 107.77}, {"i": 92, "o": 107.75, "h": 108.73, "l": 107.48, "c": 107.82},
            {"i": 93, "o": 107.85, "h": 108.35, "l": 107.55, "c": 108.04}
          ]},
          "layer": [
            {
              "mark": {"type": "rule", "strokeWidth": 1.2},
              "encoding": {
                "y": {"field": "h", "type": "quantitative", "title": null, "scale": {"domain": [92.68, 116.11], "nice": false, "zero": false}},
                "y2": {"field": "l"},
                "color": {"condition": {"test": "datum.c >= datum.o", "value": "#089981"}, "value": "#f23645"}
              }
            },
            {
              "mark": {"type": "bar", "width": 7.2},
              "encoding": {
                "y": {"field": "o", "type": "quantitative", "title": null, "scale": {"domain": [92.68, 116.11], "nice": false, "zero": false}},
                "y2": {"field": "c"},
                "color": {"condition": {"test": "datum.c >= datum.o", "value": "#089981"}, "value": "#f23645"}
              }
            }
          ]
        },
        {
          "data": {"values": [
            {"leg": "main", "n": 1, "i": 94.97, "p": 108.18}, {"leg": "main", "n": 2, "i": 99.96, "p": 106.15}, {"leg": "main", "n": 3, "i": 106.9, "p": 115.04},
            {"leg": "head", "n": 1, "i": 104.1, "p": 114.69}, {"leg": "head", "n": 2, "i": 106.9, "p": 115.04}, {"leg": "head", "n": 3, "i": 109.07, "p": 114.58}
          ]},
          "mark": {"type": "line", "color": "#4caf50", "strokeWidth": 5.5, "strokeCap": "round"},
          "encoding": {"detail": {"field": "leg"}, "order": {"field": "n"}}
        },
        {
          "data": {"values": [{"i": 93, "p": 106.48, "t": "W PVAH"}, {"i": 92.9, "p": 97.76, "t": "W PVAL"}]},
          "mark": {"type": "text", "fontSize": 18, "color": "#26c6da", "align": "center", "baseline": "middle"},
          "encoding": {"text": {"field": "t"}}
        },
        {
          "data": {"values": [{"i": 92.96, "p": 93}]},
          "layer": [
            {"mark": {"type": "point", "shape": "circle", "filled": false, "size": 1156, "color": "#9c27b0", "strokeWidth": 3, "opacity": 1}, "encoding": {}},
            {"mark": {"type": "point", "shape": "M0.2 -1 L-0.6 0.2 H-0.05 L-0.2 1 L0.6 -0.2 H0.05 Z", "filled": true, "size": 324, "color": "#9c27b0", "opacity": 1}, "encoding": {}}
          ]
        },
        {
          "data": {"values": [{"i": 94.06, "p": 93.18}]},
          "mark": {"type": "circle", "size": 80, "color": "#f23645", "opacity": 1},
          "encoding": {}
        },
        {
          "data": {"values": [{"i": 112.3, "i2": 124.6, "p": 108.88, "p2": 108.0}]},
          "mark": {"type": "rect", "color": "#26c6da"},
          "encoding": {"x2": {"field": "i2"}, "y2": {"field": "p2"}}
        },
        {
          "data": {"values": [{"i": 114.6, "p": 108.5, "t": "108.50"}]},
          "mark": {"type": "text", "fontSize": 29, "color": "#000000", "align": "left", "baseline": "middle"},
          "encoding": {"text": {"field": "t"}}
        },
        {
          "data": {"values": [{"i": 112.3, "i2": 124.6, "p": 108.41, "p2": 107.08}]},
          "mark": {"type": "rect", "color": "#089981"},
          "encoding": {"x2": {"field": "i2"}, "y2": {"field": "p2"}}
        },
        {
          "data": {"values": [{"i": 112.3, "i2": 124.6, "p": 106.62, "p2": 105.9}]},
          "mark": {"type": "rect", "color": "#0097a7"},
          "encoding": {"x2": {"field": "i2"}, "y2": {"field": "p2"}}
        },
        {
          "data": {"values": [{"i": 112.3, "i2": 123.1, "p": 99.11, "p2": 98.38}]},
          "mark": {"type": "rect", "color": "#2f6ff2"},
          "encoding": {"x2": {"field": "i2"}, "y2": {"field": "p2"}}
        },
        {
          "data": {"values": [{"i": 112.3, "i2": 123.1, "p": 94.08, "p2": 93.36}]},
          "mark": {"type": "rect", "color": "#4caf50"},
          "encoding": {"x2": {"field": "i2"}, "y2": {"field": "p2"}}
        },
        {
          "data": {"values": [{"i": 112.3, "i2": 125.6, "p": 116.14, "p2": 116.5}]},
          "mark": {"type": "rect", "color": "#ffffff"},
          "encoding": {"x2": {"field": "i2"}, "y2": {"field": "p2"}}
        },
        {
          "data": {"values": [{"i": 114.6, "p": 108.04, "t": "108.04"}, {"i": 114.6, "p": 106.27, "t": "106.27"}, {"i": 114.6, "p": 98.74, "t": "98.74"}, {"i": 114.6, "p": 93.73, "t": "93.73"}]},
          "mark": {"type": "text", "fontSize": 29, "color": "#ffffff", "align": "left", "baseline": "middle"},
          "encoding": {"text": {"field": "t"}}
        },
        {
          "data": {"values": [{"i": 114.6, "p": 107.43, "t": "14:52"}]},
          "mark": {"type": "text", "fontSize": 29, "color": "#b5e0d9", "align": "left", "baseline": "middle"},
          "encoding": {"text": {"field": "t"}}
        },
        {
          "data": {"values": [{"i": -0.46, "i2": 125.16, "p": 116.14, "p2": 91.55}]},
          "mark": {"type": "rect", "fill": "transparent", "stroke": "#f2f3f5", "strokeWidth": 3},
          "encoding": {"x2": {"field": "i2"}, "y2": {"field": "p2"}}
        },
        {
          "data": {"values": [{"i": 0.79, "p": 115.74, "t": "Brent Crude Futures · 1h · ICEEUR"}, {"i": 32.2, "p": 115.74, "t": "O"}, {"i": 40.2, "p": 115.74, "t": "H"}, {"i": 48.2, "p": 115.74, "t": "L"}, {"i": 56, "p": 115.74, "t": "C"}]},
          "mark": {"type": "text", "fontSize": 19, "color": "#b2b5be", "align": "left", "baseline": "middle"},
          "encoding": {"text": {"field": "t"}}
        },
        {
          "data": {"values": [{"i": 33.6, "p": 115.74, "t": "107.85"}, {"i": 41.5, "p": 115.74, "t": "108.35"}, {"i": 49.3, "p": 115.74, "t": "107.55"}, {"i": 57, "p": 115.74, "t": "108.04"}, {"i": 63.7, "p": 115.74, "t": "+0.22"}, {"i": 69, "p": 115.74, "t": "(+0.20%)"}]},
          "mark": {"type": "text", "fontSize": 18, "color": "#089981", "align": "left", "baseline": "middle"},
          "encoding": {"text": {"field": "t"}}
        }
      ]
    }
  ]
}
